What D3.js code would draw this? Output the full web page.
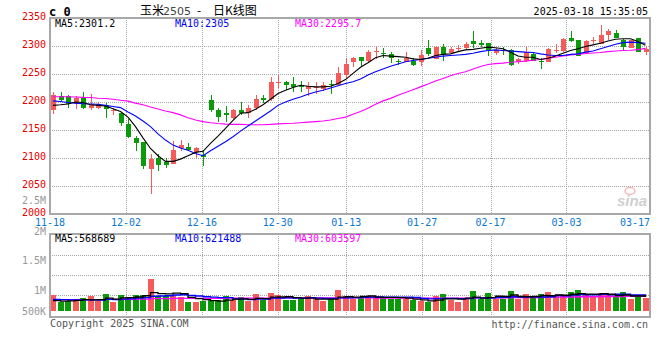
<!DOCTYPE html>
<html><head><meta charset="utf-8">
<script src="https://cdn.jsdelivr.net/npm/d3@7"></script>
<style>body{margin:0;background:#fff}</style>
</head><body><svg id="c" width="660" height="360"></svg>
<script>
const dates = ["11-18","11-19","11-20","11-21","11-22","11-25","11-26","11-27","11-28","11-29",
"12-02","12-03","12-04","12-05","12-06","12-09","12-10","12-11","12-12","12-13",
"12-16","12-17","12-18","12-19","12-20","12-23","12-24","12-25","12-26","12-27",
"12-30","12-31","01-02","01-03","01-06","01-07","01-08","01-09","01-10",
"01-13","01-14","01-15","01-16","01-17","01-20","01-21","01-22","01-23","01-24",
"01-27","02-05","02-06","02-07","02-10","02-11","02-12","02-13","02-14",
"02-17","02-18","02-19","02-20","02-21","02-24","02-25","02-26","02-27","02-28",
"03-03","03-04","03-05","03-06","03-07","03-10","03-11","03-12","03-13","03-14",
"03-17","03-18"];
const openP = [2185,2210,2210,2196,2207,2189,2190,2194,2184,2181,2161,2136,2129,2080,2100,2092,2090,2118,2120,2111,
2106,2204,2185,2181,2171,2186,2180,2190,2208,2206,2235,2235,2232,2230,2224,2226,2224,2232,2230,
2249,2271,2280,2273,2289,2288,2285,2274,2272,2274,2271,2296,2277,2299,2288,2295,2296,2309,2305,
2305,2288,2293,2293,2271,2274,2285,2273,2272,2292,2291,2314,2310,2288,2309,2304,2319,2323,2310,2297,2314,2290];
const highP = [2217,2217,2212,2210,2217,2214,2200,2199,2190,2183,2169,2139,2129,2107,2107,2100,2131,2132,2126,2120,
2114,2212,2189,2193,2188,2200,2194,2212,2212,2244,2249,2238,2244,2237,2236,2236,2236,2239,2262,
2278,2280,2281,2292,2298,2297,2290,2277,2289,2279,2292,2311,2300,2304,2298,2301,2308,2326,2310,
2306,2297,2298,2295,2279,2298,2287,2279,2296,2303,2314,2326,2311,2311,2316,2337,2330,2329,2312,2311,2315,2298];
const lowP = [2179,2201,2189,2188,2187,2185,2187,2171,2176,2157,2136,2113,2081,2035,2076,2083,2089,2113,2112,2100,
2085,2183,2164,2164,2170,2176,2171,2186,2199,2201,2225,2221,2218,2218,2210,2215,2220,2215,2230,
2242,2263,2263,2272,2276,2278,2270,2266,2271,2265,2265,2283,2276,2273,2285,2291,2293,2297,2298,
2282,2284,2284,2264,2267,2272,2273,2259,2271,2288,2290,2308,2282,2286,2304,2303,2311,2314,2293,2297,2290,2284];
const closeP = [2212,2204,2196,2207,2189,2196,2196,2187,2185,2163,2138,2127,2085,2099,2088,2087,2114,2123,2115,2118,
2102,2186,2174,2177,2186,2181,2189,2205,2204,2235,2236,2230,2227,2227,2229,2227,2230,2231,2251,
2267,2279,2273,2290,2291,2287,2278,2273,2279,2266,2284,2285,2299,2286,2295,2296,2303,2303,2302,
2292,2292,2292,2266,2276,2289,2274,2271,2295,2293,2313,2309,2283,2309,2310,2320,2327,2315,2298,2311,2290,2295];
const ma5 = [2194,2195,2196.5,2200,2199,2195,2194,2193,2188,2183,2173,2156,2136,2117,2104,2094,2094,2098,2104,2110,
2112,2126,2139,2153,2167,2180,2181,2187,2195,2205,2215,2221,2226,2230,2228,2227,2227,2228,2233,
2240,2251,2262,2270,2279,2283,2282,2281,2280,2277,2276,2278,2283,2285,2286,2290,2293,2294,2296,
2298,2297,2295,2289,2282,2280,2280,2276,2278,2282,2287,2292,2295,2299,2302,2305,2309,2312,2313,2313,2308,2301.2];
const ma10 = [2202,2201,2199,2198,2197,2196.5,2196,2194,2192,2190,2182,2175,2166,2156,2143,2132,2123,2118,2114,2108,
2104,2113,2121,2129,2138,2148,2157,2166,2175,2184,2194,2200,2205,2209,2214,2218,2221,2225,2229,
2233,2236,2241,2248,2254,2259,2264,2268,2272,2274,2276,2278,2280,2282,2283,2284,2285,2287,2290,
2292,2293,2292,2291,2290,2289,2288.5,2286,2284,2283,2283,2285,2286,2289,2291,2295,2299,2303,2306,2307,2306,2305];
const ma30 = [2209.5,2209.5,2209.3,2209,2208.3,2208,2206.6,2206.3,2205,2203,2201.5,2198,2195,2191,2187.5,2184,2181,2177,2172,2168,
2165,2163,2161.5,2160.5,2160,2160,2159.5,2159.5,2159.5,2160,2161,2161.5,2162,2163,2164,2165,2166,2168,2170.5,
2173,2178,2183,2189,2196,2202,2206.5,2212,2217,2222,2227,2232,2237.5,2242,2247,2251,2254,2259,2263.5,
2267,2268.5,2269.5,2271,2272,2273,2274.5,2276,2278,2280,2282,2284,2285,2286.5,2287.5,2288.5,2290,2291,2292,2292.5,2293.5,2295.7];
const volume = [638000,354000,394000,394000,516000,597000,394000,680000,354000,638000,557000,638000,638000,1290000,597000,597000,638000,557000,354000,354000,
394000,435000,435000,597000,435000,557000,394000,680000,435000,720000,638000,435000,435000,475000,597000,475000,394000,475000,840000,
597000,475000,516000,597000,597000,557000,475000,475000,475000,435000,394000,354000,597000,680000,435000,354000,516000,800000,475000,
720000,475000,475000,800000,475000,680000,516000,680000,760000,597000,597000,760000,840000,680000,557000,720000,638000,597000,760000,475000,597000,516000];
const volMa5 = [420000,400000,410000,430000,460000,450000,460000,520000,480000,530000,540000,570000,620000,750000,710000,700000,730000,710000,550000,500000,
460000,420000,400000,440000,480000,490000,470000,510000,500000,560000,570000,580000,540000,520000,520000,480000,480000,480000,560000,
580000,560000,590000,610000,560000,550000,550000,540000,520000,480000,450000,410000,440000,490000,490000,480000,520000,560000,520000,
540000,600000,590000,650000,590000,580000,590000,630000,620000,650000,640000,680000,710000,690000,690000,710000,680000,630000,650000,610000,610000,568689];
const volMa10 = [470000,460000,450000,450000,450000,450000,440000,470000,460000,480000,490000,520000,540000,600000,610000,620000,650000,660000,630000,610000,
580000,560000,540000,540000,490000,480000,460000,480000,480000,520000,520000,530000,520000,520000,540000,520000,510000,510000,530000,
530000,540000,550000,560000,570000,560000,560000,560000,560000,550000,510000,490000,500000,510000,510000,500000,500000,530000,530000,
530000,540000,550000,580000,560000,560000,570000,570000,580000,630000,620000,650000,670000,660000,660000,680000,660000,680000,680000,650000,650000,621488];
const volMa30 = [460000,460000,460000,460000,460000,460000,460000,470000,470000,470000,470000,480000,480000,500000,500000,500000,510000,510000,510000,510000,
510000,510000,510000,520000,520000,520000,520000,520000,520000,530000,530000,530000,530000,530000,530000,530000,530000,530000,530000,
530000,530000,530000,530000,520000,520000,520000,520000,520000,520000,520000,520000,520000,520000,520000,520000,520000,530000,530000,
530000,530000,530000,540000,540000,540000,540000,550000,560000,560000,570000,570000,580000,580000,580000,590000,590000,590000,600000,600000,600000,603597];
const priceTicks = [2000,2050,2100,2150,2200,2250,2300,2350];
const volTicks = [500000,1000000,1500000,2000000,2500000];
const volTickLabels = ["500K","1M","1.5M","2M","2.5M"];
const dateTicks = ["11-18","12-02","12-16","12-30","01-13","01-27","02-17","03-03","03-17"];
const priceLegend = [["MA5:2301.2","#000"],["MA10:2305","#0000ff"],["MA30:2295.7","#ff00ff"]];
const volLegend = [["MA5:568689","#000"],["MA10:621488","#0000ff"],["MA30:603597","#ff00ff"]];

const svg = d3.select("#c");
const L = 50, R = 650, PT = 18, PB = 214, VT = 234, VB = 317, VBASE = 311;
const mono = "'DejaVu Sans Mono', 'Liberation Mono', monospace";
const RED = "#f65b5b", GREEN = "#0a9a0a", GRID = "#a6a6a6", BORDER = "#a8a8a8";

const x = d3.scaleBand().domain(dates).range([49.25, 649.25]);
const xg = d3.scaleLinear().domain([0, dates.length - 1]).range([L, R]);
const y = d3.scaleLinear().domain([2000, 2350]).range([PB, PT]);
const yv = d3.scaleLinear().domain([0, 3000000]).range([VBASE, VBASE - 73.8]);
const yvl = d3.scaleLinear().domain([1000000, 2500000]).range([290, 200]);
const cx = i => x(dates[i]) + x.bandwidth() / 2;
const px = i => Math.round(cx(i));
const idx = d3.range(dates.length);
const up = i => closeP[i] >= openP[i];

svg.append("rect").attr("width", 660).attr("height", 360).attr("fill", "#fff");

// grid lines
const grid = svg.append("g").attr("stroke", GRID).attr("stroke-dasharray", "1,1").attr("shape-rendering", "crispEdges");
grid.selectAll("line.h").data(priceTicks.filter(t => t > 2000 && t < 2350)).join("line")
  .attr("x1", L).attr("x2", R).attr("y1", d => Math.round(y(d)) + 0.5).attr("y2", d => Math.round(y(d)) + 0.5);
const vgrid = dateTicks.map(d => xg(dates.indexOf(d))).filter(v => v > L + 5 && v < R - 10);
grid.selectAll("line.v").data(vgrid).join("line")
  .attr("x1", d => Math.round(d) + 0.5).attr("x2", d => Math.round(d) + 0.5).attr("y1", PT).attr("y2", PB);
grid.selectAll("line.vh").data(volTicks.slice(1, 4)).join("line")
  .attr("x1", L).attr("x2", R)
  .attr("y1", (d, k) => VT + 21 + 20 * k + 0.5).attr("y2", (d, k) => VT + 21 + 20 * k + 0.5);
grid.selectAll("line.vv").data(vgrid).join("line")
  .attr("x1", d => Math.round(d) + 0.5).attr("x2", d => Math.round(d) + 0.5).attr("y1", VT).attr("y2", VB);

// candles
const cg = svg.append("g").attr("shape-rendering", "crispEdges");
cg.selectAll("line").data(idx).join("line")
  .attr("x1", i => px(i) + 0.5).attr("x2", i => px(i) + 0.5)
  .attr("y1", i => y(highP[i])).attr("y2", i => y(lowP[i]))
  .attr("stroke", i => up(i) ? RED : GREEN).attr("stroke-width", 1);
cg.selectAll("rect").data(idx).join("rect")
  .attr("x", i => px(i) - 2).attr("width", 5)
  .attr("y", i => y(Math.max(openP[i], closeP[i])))
  .attr("height", i => Math.max(1, y(Math.min(openP[i], closeP[i])) - y(Math.max(openP[i], closeP[i]))))
  .attr("fill", i => up(i) ? RED : GREEN);

// MA lines
const maLine = arr => d3.line().x(i => cx(i)).y(i => y(arr[i]))(idx);
[[ma30, "#ff00ff"], [ma10, "#0000ff"], [ma5, "#000"]].forEach(([a, c]) =>
  svg.append("path").attr("d", maLine(a)).attr("fill", "none").attr("stroke", c).attr("stroke-width", 1.1));

// volume bars
svg.append("g").attr("shape-rendering", "crispEdges").selectAll("rect").data(idx).join("rect")
  .attr("x", i => px(i) - 3).attr("width", 6)
  .attr("y", i => yv(volume[i])).attr("height", i => VBASE - yv(volume[i]))
  .attr("fill", i => up(i) ? RED : GREEN);
const vLine = arr => d3.line().x(i => cx(i)).y(i => yv(arr[i])).curve(d3.curveStepAfter)(idx);
[[volMa30, "#ff00ff"], [volMa10, "#0000ff"], [volMa5, "#000"]].forEach(([a, c]) =>
  svg.append("path").attr("d", vLine(a)).attr("fill", "none").attr("stroke", c).attr("stroke-width", 1.3));

// borders
const bd = svg.append("g").attr("stroke", BORDER).attr("fill", "none").attr("shape-rendering", "crispEdges");
bd.append("rect").attr("x", L).attr("y", PT).attr("width", R - L).attr("height", PB - PT).attr("stroke-width", 2);
bd.append("rect").attr("x", L).attr("y", VT).attr("width", R - L).attr("height", VB - VT).attr("stroke-width", 2);

// watermark
const wm = svg.append("g").attr("opacity", 0.55);
wm.append("ellipse").attr("cx", 630).attr("cy", 191).attr("rx", 5).attr("ry", 3.5).attr("fill", "none").attr("stroke", "#f08080").attr("stroke-width", 1.5);
wm.append("text").attr("x", 617).attr("y", 206).attr("font-family", "Arial, 'Liberation Sans', sans-serif").attr("font-style", "italic").attr("font-weight", "bold")
  .attr("font-size", 15).attr("fill", "#aaa").text("sina");

// text
const T = (sel) => sel.attr("font-family", mono).attr("font-size", 10);
svg.append("g").selectAll("text").data(priceTicks).join("text").call(T)
  .attr("x", 46).attr("y", d => y(d) - 2).attr("dy", "0.35em").attr("text-anchor", "end")
  .attr("fill", "#e60000").text(d => d);
svg.append("g").selectAll("text").data(volTicks).join("text").call(T)
  .attr("x", 46).attr("y", d => Math.min(VBASE, yvl(d)) + (d === 2000000 ? 1.5 : 0)).attr("dy", "0.35em").attr("text-anchor", "end")
  .attr("fill", "#999").text((d, k) => volTickLabels[k]);
svg.append("g").selectAll("text").data(dateTicks).join("text").call(T)
  .attr("x", d => Math.min(xg(dates.indexOf(d)), R - 15)).attr("y", 222).attr("dy", "0.35em").attr("text-anchor", "middle")
  .attr("fill", "#0a78d2").text(d => d);
[[priceLegend, 23.7], [volLegend, 238.3]].forEach(([lg, yy]) =>
  svg.append("g").selectAll("text").data(lg).join("text").call(T)
    .attr("x", (d, k) => 55 + 120 * k).attr("y", yy).attr("dy", "0.35em").attr("fill", d => d[1]).text(d => d[0]));

svg.append("text").attr("x", 49).attr("y", 16).attr("font-family", mono).attr("font-size", 12).attr("font-weight", "bold").text("c 0");
const CJK = "'Noto Sans CJK SC', sans-serif";
svg.append("text").attr("x", 140).attr("y", 15).attr("font-family", CJK).attr("font-size", 12).text("玉米");
svg.append("text").attr("x", 163).attr("y", 15).attr("font-family", "'DejaVu Sans', sans-serif").attr("font-size", 11).attr("fill", "#444").text("2505");
svg.append("text").attr("x", 197).attr("y", 15).attr("font-family", CJK).attr("font-size", 12).text("-");
svg.append("text").attr("x", 213).attr("y", 15).attr("font-family", CJK).attr("font-size", 12).text("日K线图");
svg.append("text").call(T).attr("x", 648).attr("y", 15).attr("text-anchor", "end").attr("fill", "#000").text("2025-03-18 15:35:05");
svg.append("text").call(T).attr("x", 50).attr("y", 327).attr("fill", "#555").text("Copyright 2025 SINA.COM");
svg.append("text").call(T).attr("x", 648).attr("y", 328).attr("text-anchor", "end").attr("fill", "#555").text("http://finance.sina.com.cn");
</script></body></html>
